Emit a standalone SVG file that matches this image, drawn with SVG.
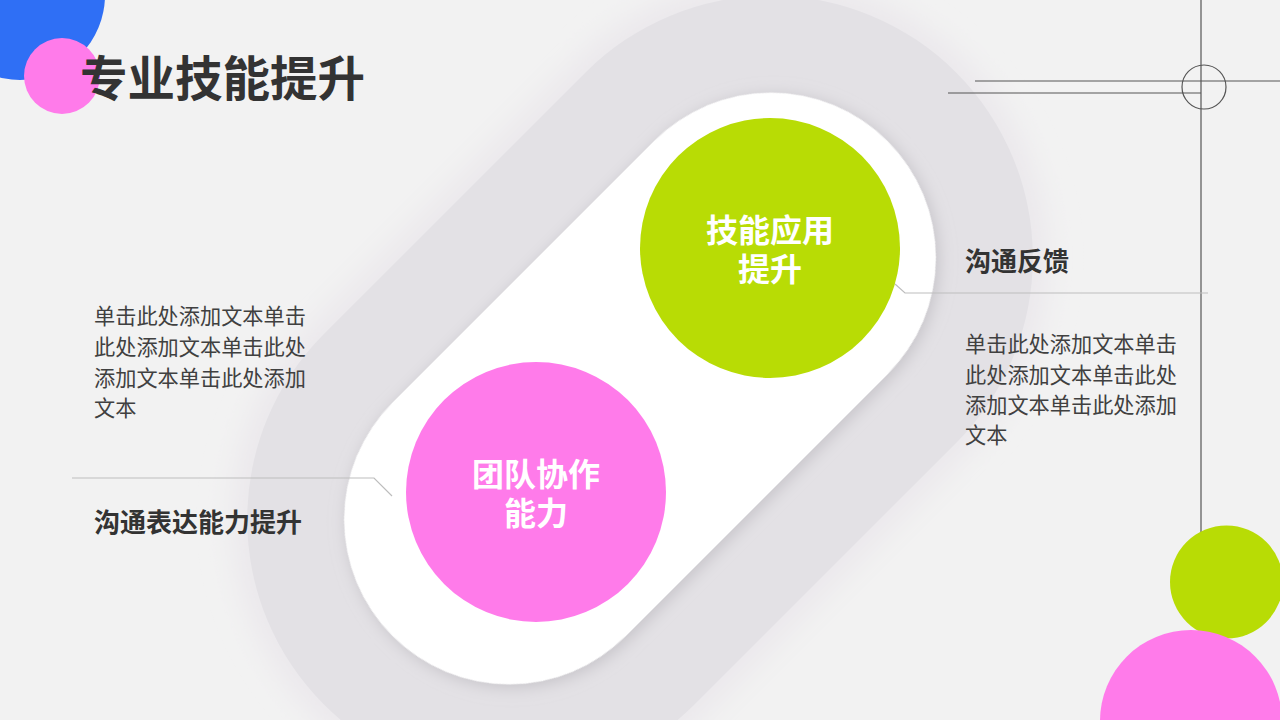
<svg xmlns="http://www.w3.org/2000/svg" width="1280" height="720" viewBox="0 0 1280 720">
  <style>
    .title{font-family:"Noto Sans CJK SC","Noto Sans",sans-serif;font-weight:bold;font-size:47.5px;fill:#333333}
    .head{font-family:"Noto Sans CJK SC","Noto Sans",sans-serif;font-weight:bold;font-size:26px;fill:#333333}
    .body{font-family:"Noto Sans CJK SC","Noto Sans",sans-serif;font-size:21.2px;fill:#404040}
    .ctext{font-family:"Noto Sans CJK SC","Noto Sans",sans-serif;font-weight:bold;font-size:32px;fill:#ffffff;text-anchor:middle}
    .deco{stroke:#555555;stroke-width:1.2;fill:none}
    .conn{stroke:#bdbdbd;stroke-width:1.2;fill:none}
  </style>
  <defs>
    <filter id="glow" x="-20%" y="-20%" width="140%" height="140%">
      <feGaussianBlur stdDeviation="14"/>
    </filter>
    <filter id="shadow" x="-20%" y="-20%" width="140%" height="140%">
      <feDropShadow dx="0" dy="4" stdDeviation="8" flood-color="#b0aeb4" flood-opacity="0.6"/>
    </filter>
  </defs>
  <rect width="1280" height="720" fill="#f2f2f2"/>

  <g id="capsule" transform="translate(640,388.5) rotate(-45)">
    <rect x="-462" y="-277" width="924" height="554" rx="277" fill="#ebe8ec" filter="url(#glow)"/>
    <rect x="-447" y="-262" width="894" height="524" rx="262" fill="#e3e1e5"/>
    <rect x="-350" y="-165" width="700" height="330" rx="165" fill="#ffffff" filter="url(#shadow)"/>
  </g>

  <g id="decor-topleft">
    <circle cx="20" cy="-5" r="85" fill="#2f6ff5"/>
    <circle cx="62" cy="76" r="38" fill="#ff7bea"/>
  </g>
  <g id="title">
    <text class="title" x="80" y="96">专业技能提升</text>
  </g>

  <g id="decor-crosshair">
    <line class="deco" x1="1201" y1="0" x2="1201" y2="540"/>
    <line class="deco" x1="975" y1="81" x2="1280" y2="81"/>
    <line class="deco" x1="948" y1="93" x2="1201" y2="93"/>
    <circle class="deco" cx="1204" cy="87" r="22"/>
  </g>

  <g id="decor-bottomright">
    <circle cx="1226.5" cy="582" r="56.5" fill="#b8dc05"/>
    <circle cx="1191" cy="721" r="91" fill="#ff7bea"/>
  </g>

  <g id="connectors">
    <polyline class="conn" points="895,284 905,293 1208,293"/>
    <polyline class="conn" points="72,478 374,478 392,496"/>
  </g>

  <g id="node-skill">
    <circle cx="770" cy="248" r="130" fill="#b8dc05"/>
    <text class="ctext"><tspan x="770" y="242">技能应用</tspan><tspan x="770" y="281">提升</tspan></text>
  </g>

  <g id="node-team">
    <circle cx="536" cy="492" r="130" fill="#ff7bea"/>
    <text class="ctext"><tspan x="536" y="486">团队协作</tspan><tspan x="536" y="525">能力</tspan></text>
  </g>

  <g id="label-feedback">
    <text class="head" x="965" y="271">沟通反馈</text>
    <text class="body" x="965" y="352">单击此处添加文本单击</text>
    <text class="body" x="965" y="383">此处添加文本单击此处</text>
    <text class="body" x="965" y="413">添加文本单击此处添加</text>
    <text class="body" x="965" y="443">文本</text>
  </g>

  <g id="label-express">
    <text class="head" x="94" y="532">沟通表达能力提升</text>
    <text class="body" x="94" y="324">单击此处添加文本单击</text>
    <text class="body" x="94" y="355">此处添加文本单击此处</text>
    <text class="body" x="94" y="386">添加文本单击此处添加</text>
    <text class="body" x="94" y="416">文本</text>
  </g>
</svg>
